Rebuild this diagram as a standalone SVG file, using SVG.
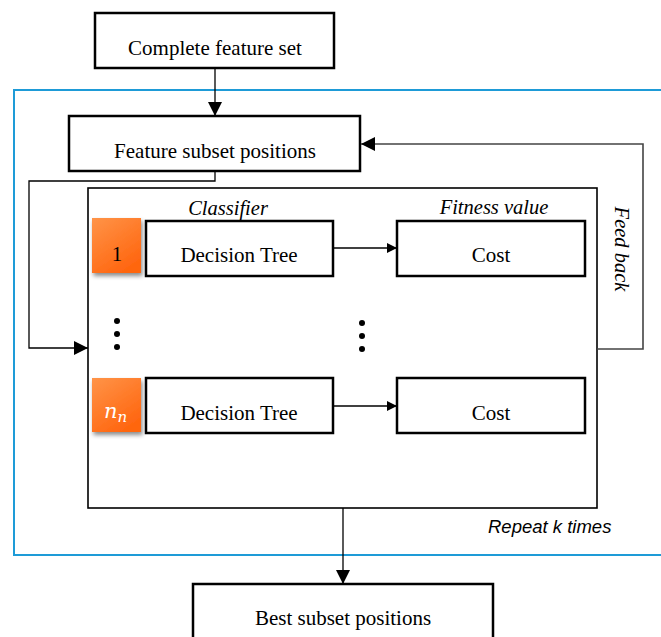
<svg xmlns="http://www.w3.org/2000/svg" width="661" height="637" viewBox="0 0 661 637">
  <defs>
    <marker id="arrow" markerWidth="10" markerHeight="10" refX="10" refY="5" orient="auto" markerUnits="userSpaceOnUse" viewBox="0 0 10 10">
      <path d="M0,0 L10,5 L0,10 Z" fill="#000"/>
    </marker>
    <marker id="arrowLg" markerWidth="14" markerHeight="14" refX="14" refY="7" orient="auto" markerUnits="userSpaceOnUse" viewBox="0 0 14 14">
      <path d="M0,0 L14,7 L0,14 Z" fill="#000"/>
    </marker>
    <linearGradient id="orange" x1="0" y1="0" x2="0.6" y2="1">
      <stop offset="0" stop-color="#FF9448"/>
      <stop offset="1" stop-color="#FF6610"/>
    </linearGradient>
    <filter id="shadow" x="-20%" y="-20%" width="150%" height="150%">
      <feDropShadow dx="1.5" dy="3" stdDeviation="2" flood-color="#000" flood-opacity="0.45"/>
    </filter>
  </defs>
  <style>
    .box { fill: #fff; stroke: #000; stroke-width: 2.5; }
    .frame { fill: none; stroke: #000; stroke-width: 1.6; }
    .loop { fill: none; stroke: #1E9BD7; stroke-width: 2; }
    .wire { fill: none; stroke: #000; stroke-width: 1.3; }
    .fb { fill: none; stroke: #444; stroke-width: 1.6; }
    .lbl { font-family: "Liberation Serif", "Times New Roman", serif; font-size: 21px; fill: #000; text-anchor: middle; }
    .cap { font-family: "Liberation Serif", "Times New Roman", serif; font-size: 20.5px; font-style: italic; fill: #000; text-anchor: middle; }
    .note { font-family: "Liberation Sans", Arial, sans-serif; font-size: 18.5px; font-style: italic; fill: #000; }
    .tag { fill: url(#orange); filter: url(#shadow); }
    .dot { fill: #000; }
  </style>

  <!-- repeat loop region -->
  <g id="loop">
    <path class="loop" d="M663,90 H14 V555 H663"/>
    <text class="note" x="488" y="533">Repeat k times</text>
  </g>

  <!-- inner evaluation frame -->
  <g id="evaluation">
    <rect class="frame" x="88" y="188" width="509" height="320"/>
    <text class="cap" x="228" y="215">Classifier</text>
    <text class="cap" x="494" y="214">Fitness value</text>
  </g>

  <g id="complete-feature-set">
    <rect class="box" x="95" y="13" width="239" height="55"/>
    <text class="lbl" x="215" y="55">Complete feature set</text>
  </g>

  <g id="feature-subset-positions">
    <rect class="box" x="69" y="116" width="291" height="55"/>
    <text class="lbl" x="215" y="158">Feature subset positions</text>
  </g>

  <g id="tag-1">
    <rect class="tag" x="92" y="218" width="49" height="55"/>
    <text class="lbl" x="117" y="261">1</text>
  </g>

  <g id="decision-tree-1">
    <rect class="box" x="146" y="221" width="187" height="55"/>
    <text class="lbl" x="239" y="262">Decision Tree</text>
  </g>

  <g id="cost-1">
    <rect class="box" x="397" y="221" width="188" height="55"/>
    <text class="lbl" x="491" y="262">Cost</text>
  </g>

  <g id="ellipsis">
    <circle class="dot" cx="117" cy="321" r="3"/>
    <circle class="dot" cx="117" cy="334" r="3"/>
    <circle class="dot" cx="117" cy="347" r="3"/>
    <circle class="dot" cx="362" cy="323" r="3"/>
    <circle class="dot" cx="362" cy="336" r="3"/>
    <circle class="dot" cx="362" cy="349" r="3"/>
  </g>

  <g id="tag-n">
    <rect class="tag" x="92" y="378" width="49" height="54"/>
    <text x="104" y="418" font-family="'DejaVu Serif', 'Liberation Serif', serif" font-size="21" font-style="italic" fill="#fff">n<tspan font-size="15" dy="4">n</tspan></text>
  </g>

  <g id="decision-tree-n">
    <rect class="box" x="146" y="378" width="187" height="55"/>
    <text class="lbl" x="239" y="420">Decision Tree</text>
  </g>

  <g id="cost-n">
    <rect class="box" x="397" y="378" width="188" height="55"/>
    <text class="lbl" x="491" y="420">Cost</text>
  </g>

  <g id="best-subset-positions">
    <rect class="box" x="193" y="584" width="300" height="60"/>
    <text class="lbl" x="343" y="625">Best subset positions</text>
  </g>

  <!-- connectors -->
  <g id="connectors">
    <path class="wire" d="M215,68 V116" marker-end="url(#arrowLg)"/>
    <path class="wire" d="M215,171 V181 H29 V348 H88" marker-end="url(#arrowLg)"/>
    <path class="wire" d="M333,248 H397" marker-end="url(#arrow)"/>
    <path class="wire" d="M333,406 H397" marker-end="url(#arrow)"/>
    <path class="fb" d="M597,349 H643 V144 H361" marker-end="url(#arrowLg)"/>
    <path class="wire" d="M343,508 V584" marker-end="url(#arrowLg)"/>
  </g>

  <g id="feed-back-label">
    <text class="cap" transform="translate(615,249) rotate(90)">Feed back</text>
  </g>
</svg>
